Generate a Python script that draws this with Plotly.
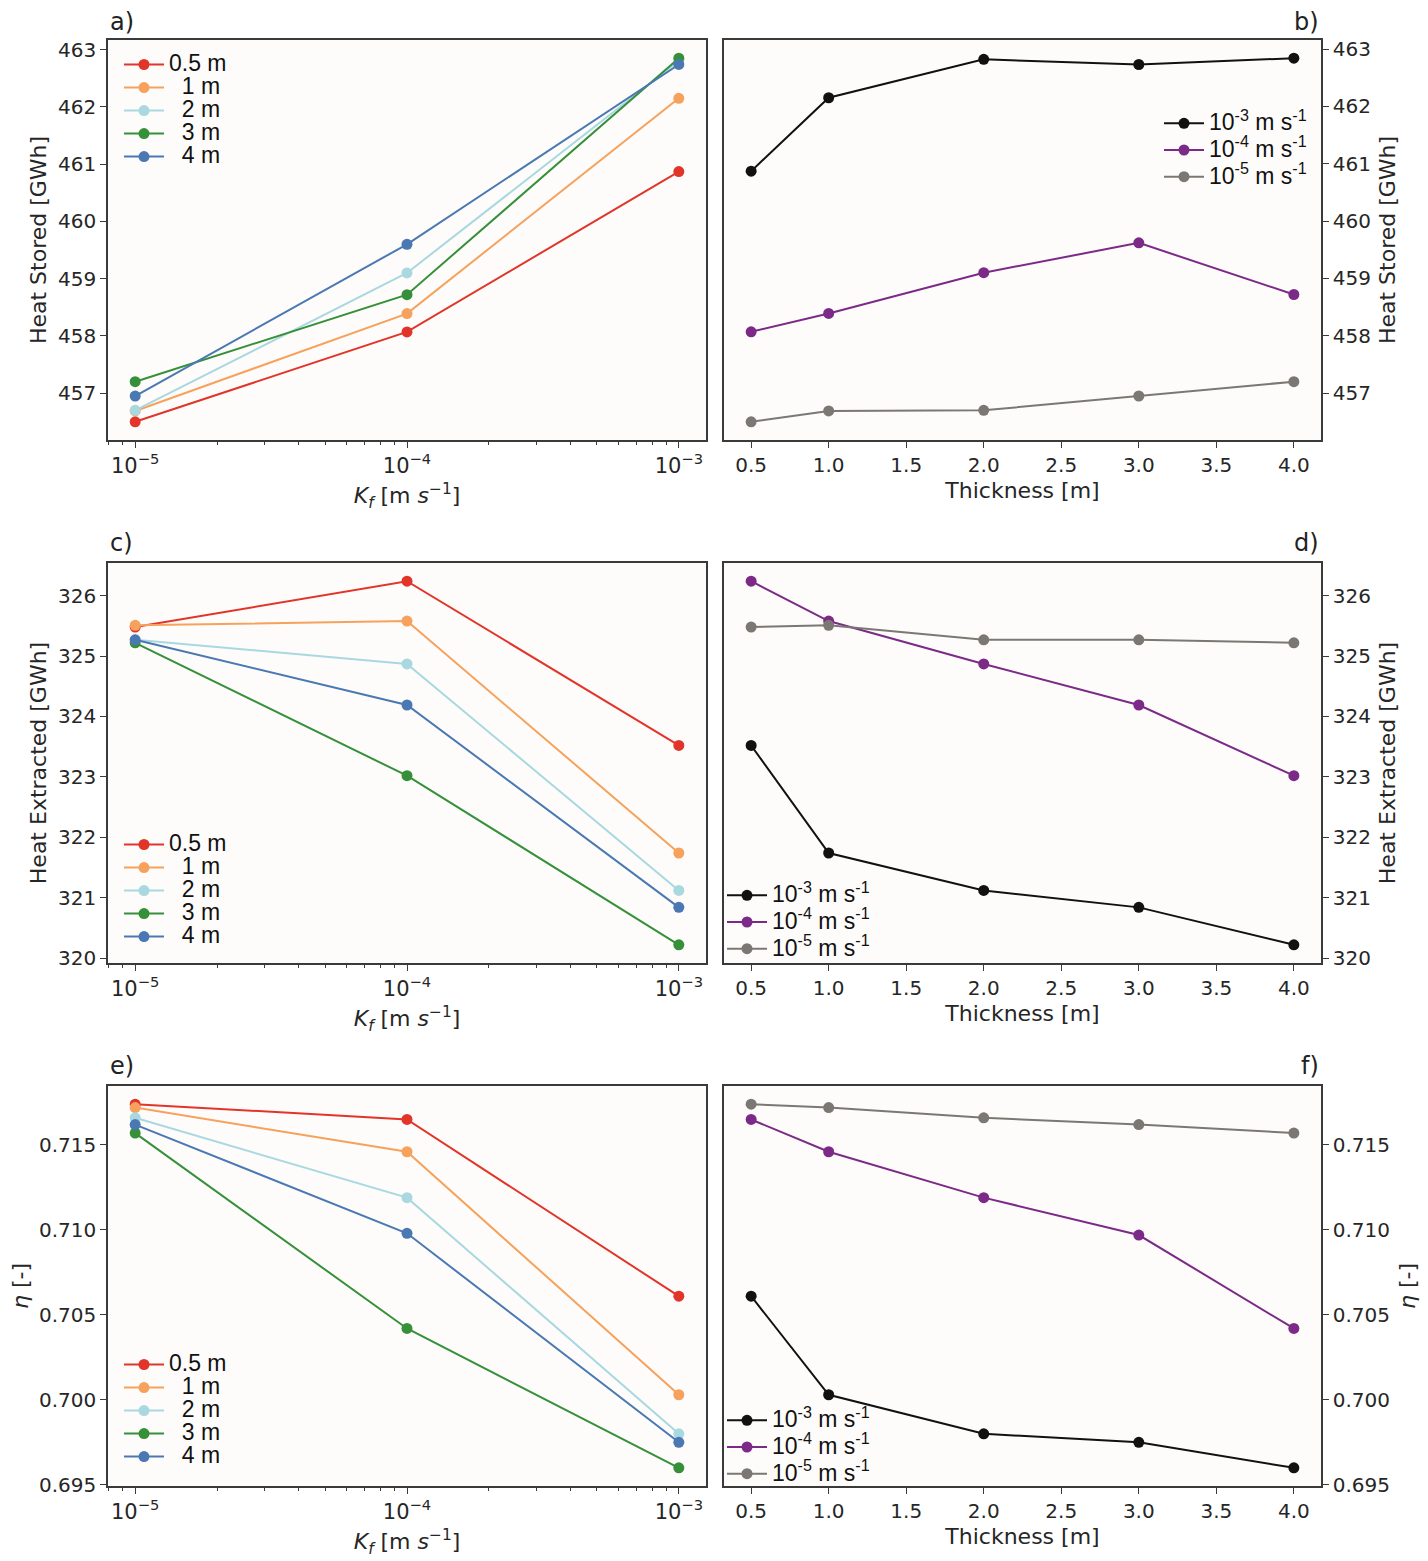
import plotly.graph_objects as go

# ---------------- data ----------------
kf = [1e-5, 1e-4, 1e-3]
thickness = [0.5, 1.0, 2.0, 3.0, 4.0]
thickness_labels = ["0.5 m", "\u00a0\u00a01 m", "\u00a0\u00a02 m", "\u00a0\u00a03 m", "\u00a0\u00a04 m"]
kf_labels = ["10<sup>-3</sup> m s<sup>-1</sup>", "10<sup>-4</sup> m s<sup>-1</sup>", "10<sup>-5</sup> m s<sup>-1</sup>"]

# panel a: heat stored [GWh] vs Kf, one row per thickness
stored_vs_kf = [
    [456.50, 458.07, 460.87],
    [456.69, 458.39, 462.15],
    [456.70, 459.10, 462.80],
    [457.20, 458.72, 462.85],
    [456.95, 459.60, 462.74],
]
# panel b: heat stored [GWh] vs thickness, one row per Kf (1e-3, 1e-4, 1e-5)
stored_vs_thk = [
    [460.87, 462.15, 462.82, 462.73, 462.84],
    [458.07, 458.39, 459.10, 459.62, 458.72],
    [456.50, 456.69, 456.70, 456.95, 457.20],
]
# panel c: heat extracted [GWh] vs Kf
extracted_vs_kf = [
    [325.48, 326.24, 323.52],
    [325.51, 325.58, 321.74],
    [325.27, 324.87, 321.12],
    [325.22, 323.02, 320.22],
    [325.27, 324.19, 320.84],
]
# panel d: heat extracted [GWh] vs thickness
extracted_vs_thk = [
    [323.52, 321.74, 321.12, 320.84, 320.22],
    [326.24, 325.58, 324.87, 324.19, 323.02],
    [325.48, 325.51, 325.27, 325.27, 325.22],
]
# panel e: efficiency vs Kf
eta_vs_kf = [
    [0.7174, 0.7165, 0.7061],
    [0.7172, 0.7146, 0.7003],
    [0.7166, 0.7119, 0.6980],
    [0.7157, 0.7042, 0.6960],
    [0.7162, 0.7098, 0.6975],
]
# panel f: efficiency vs thickness
eta_vs_thk = [
    [0.7061, 0.7003, 0.6980, 0.6975, 0.6960],
    [0.7165, 0.7146, 0.7119, 0.7097, 0.7042],
    [0.7174, 0.7172, 0.7166, 0.7162, 0.7157],
]

major_kf_ticks = [1e-5, 1e-4, 1e-3]
major_kf_text = ["10<sup>\u22125</sup>", "10<sup>\u22124</sup>", "10<sup>\u22123</sup>"]
minor_kf_ticks = [8e-6, 9e-6] + [m * 1e-5 for m in range(2, 10)] + [m * 1e-4 for m in range(2, 10)]
thk_ticks = [0.5, 1.0, 1.5, 2.0, 2.5, 3.0, 3.5, 4.0]
stored_ticks = [457, 458, 459, 460, 461, 462, 463]
extracted_ticks = [320, 321, 322, 323, 324, 325, 326]
eta_ticks = [0.695, 0.700, 0.705, 0.710, 0.715]

# ---------------- styling ----------------
thk_colors = ["#e2352a", "#f6a25c", "#a9d8e1", "#36903a", "#4a78b2"]
kf_colors = ["#111111", "#7c2a87", "#7b7873"]

OFF = 8  # page body margin in the browser
W, H = 1420, 1553
TICK_FONT = dict(family="DejaVu Sans", size=20, color="#262626")
LOG_TICK_FONT = dict(family="DejaVu Sans", size=21, color="#262626")
TITLE_FONT = dict(family="DejaVu Sans", size=22, color="#262626")
AXC = "#3a3a3a"
BG = "#fdfcfa"

col_x = [(108, 706), (724, 1321)]
row_y = [(40, 440), (563, 963), (1086, 1486)]


def px_x(p):
    return (p - OFF) / W


def px_y(p):
    return 1 - (p - OFF) / H


def mrange(vals):
    lo, hi = min(vals), max(vals)
    m = (hi - lo) * 0.05
    return [lo - m, hi + m]


def big(t):
    return f'<span style="font-size:23px">{t}</span>'


fig = go.Figure()
layout = dict(
    width=W, height=H, margin=dict(l=0, r=0, t=0, b=0),
    paper_bgcolor="white", plot_bgcolor=BG, showlegend=True,
)

panels = [
    ("a)", 0, 0, "kf", stored_vs_kf, stored_ticks, "Heat Stored [GWh]", None, 5),
    ("b)", 0, 1, "thk", stored_vs_thk, stored_ticks, "Heat Stored [GWh]", None, 10),
    ("c)", 1, 0, "kf", extracted_vs_kf, extracted_ticks, "Heat Extracted [GWh]", None, 5),
    ("d)", 1, 1, "thk", extracted_vs_thk, extracted_ticks, "Heat Extracted [GWh]", None, 10),
    ("e)", 2, 0, "kf", eta_vs_kf, eta_ticks, "<i>\u03b7</i> [-]", ".3f", 17),
    ("f)", 2, 1, "thk", eta_vs_thk, eta_ticks, "<i>\u03b7</i> [-]", ".3f", 11),
]

# legend placement (pixels: left, top)
legend_pos = {
    "a)": (119, 48),
    "b)": (1159, 105),
    "c)": (119, 828),
    "d)": (722, 877),
    "e)": (119, 1348),
    "f)": (722, 1402),
}

annotations = []
for i, (lab, r, c, kind, data, yt, ytitle, yfmt, ystand) in enumerate(panels):
    n = i + 1
    xa = "xaxis" if n == 1 else f"xaxis{n}"
    ya = "yaxis" if n == 1 else f"yaxis{n}"
    xref = "x" if n == 1 else f"x{n}"
    yref = "y" if n == 1 else f"y{n}"
    leg = "legend" if n == 1 else f"legend{n}"
    x0, x1 = col_x[c]
    y0, y1 = row_y[r]

    allv = [v for row in data for v in row]
    yr = mrange(allv)

    if kind == "kf":
        for k, row in enumerate(data):
            fig.add_trace(go.Scatter(
                x=kf, y=row, mode="lines+markers", name=big(thickness_labels[k]),
                line=dict(color=thk_colors[k], width=2),
                marker=dict(color=thk_colors[k], size=11),
                xaxis=xref, yaxis=yref, legend=leg,
            ))
        xaxis = dict(
            type="log", range=[-5.1, -2.9], tickvals=major_kf_ticks, ticktext=major_kf_text,
            tickfont=LOG_TICK_FONT,
            minor=dict(tickvals=minor_kf_ticks, ticks="outside", ticklen=3, tickcolor=AXC, tickwidth=1.2),
            title=dict(text="<i>K<sub>f</sub></i> [m <i>s</i><sup>\u22121</sup>]", font=TITLE_FONT, standoff=11),
        )
        leg_size = 15.4
    else:
        for k, row in enumerate(data):
            fig.add_trace(go.Scatter(
                x=thickness, y=row, mode="lines+markers", name=big(kf_labels[k]),
                line=dict(color=kf_colors[k], width=2),
                marker=dict(color=kf_colors[k], size=11),
                xaxis=xref, yaxis=yref, legend=leg,
            ))
        xaxis = dict(
            type="linear", range=[0.325, 4.175], tickvals=thk_ticks,
            ticktext=[f"{t:.1f}" for t in thk_ticks], tickfont=TICK_FONT,
            title=dict(text="Thickness [m]", font=TITLE_FONT, standoff=7),
        )
        leg_size = 18.2
    xaxis.update(
        domain=[px_x(x0), px_x(x1)], anchor=yref, showline=True, mirror=True,
        linecolor=AXC, linewidth=1.5, ticks="outside", ticklen=6, tickwidth=1.3,
        tickcolor=AXC, showgrid=False, zeroline=False, automargin=False,
    )
    yaxis = dict(
        domain=[px_y(y1), px_y(y0)], anchor=xref, range=yr, tickvals=yt,
        side="left" if c == 0 else "right",
        showline=True, mirror=True, linecolor=AXC, linewidth=1.5, ticks="outside",
        ticklen=6, tickwidth=1.3, tickcolor=AXC, tickfont=TICK_FONT, showgrid=False,
        zeroline=False, automargin=False,
        title=dict(text=ytitle, font=TITLE_FONT, standoff=ystand),
    )
    if yfmt:
        yaxis["tickformat"] = yfmt
    layout[xa] = xaxis
    layout[ya] = yaxis

    lx, ly = legend_pos[lab]
    layout[leg] = dict(
        x=px_x(lx), y=px_y(ly), xanchor="left", yanchor="top", xref="paper", yref="paper",
        bgcolor="rgba(0,0,0,0)", borderwidth=0,
        font=dict(family="Liberation Sans", size=leg_size, color="#111111"),
        itemwidth=40, tracegroupgap=0,
    )

    lab_font = dict(family="DejaVu Sans", size=24, color="#222")
    lab_y = px_y(6) if r == 0 else px_y(y0 - 36)
    if c == 0:
        annotations.append(dict(text=lab, x=px_x(108), y=lab_y, xref="paper", yref="paper",
                                xanchor="left", yanchor="top", showarrow=False, font=lab_font))
    else:
        annotations.append(dict(text=lab, x=px_x(1321), y=lab_y, xref="paper", yref="paper",
                                xanchor="right", yanchor="top", showarrow=False, font=lab_font))

layout["annotations"] = annotations
fig.update_layout(**layout)
fig.write_html("out.html")
